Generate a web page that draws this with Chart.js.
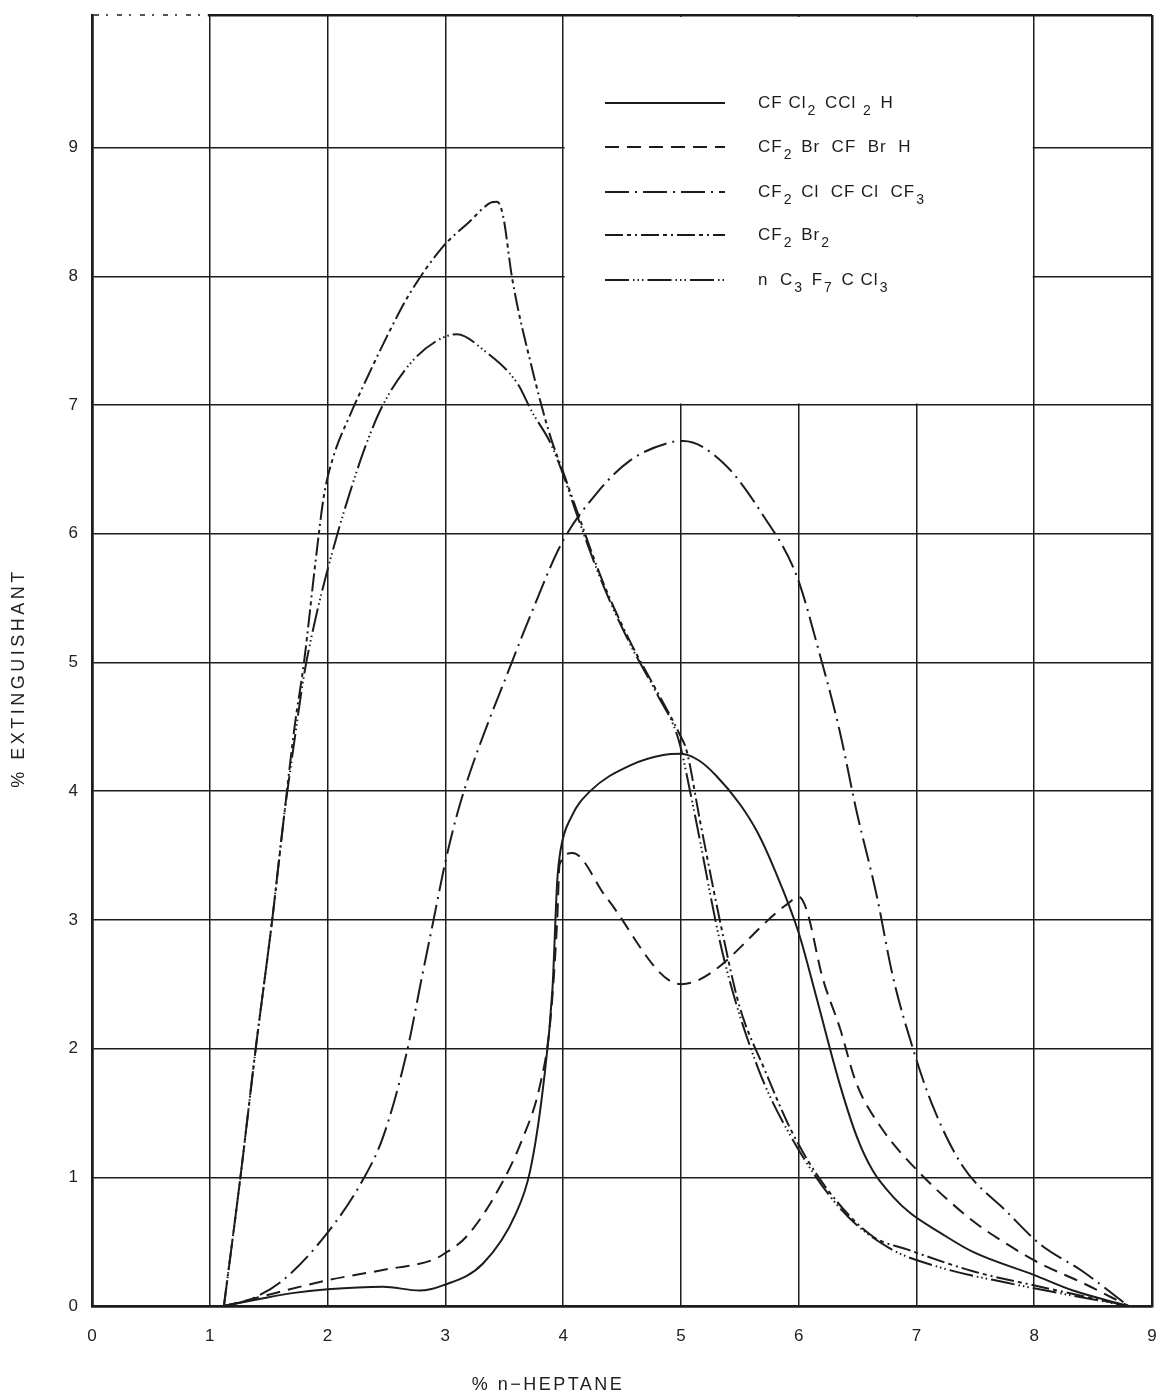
<!DOCTYPE html>
<html>
<head>
<meta charset="utf-8">
<script src="https://cdn.jsdelivr.net/npm/chart.js@4.4.1/dist/chart.umd.min.js"></script>
<style>
  html, body { margin: 0; padding: 0; background: #fff; }
  #wrap { width: 1161px; height: 1398px; }
</style>
</head>
<body>
<div id="wrap"><canvas id="chart" width="1161" height="1398"></canvas></div>
<script>
// values (x = % n-heptane, y = % extinguishant)
const xTicks = [0, 1, 2, 3, 4, 5, 6, 7, 8, 9];
const yTicks = [0, 1, 2, 3, 4, 5, 6, 7, 8, 9];
const yTop = 10.03;
const xTitle = '% n\u2212HEPTANE';
const yTitle = '% EXTINGUISHANT';

const names = ['CF Cl_2 CCl _2 H', 'CF_2 Br  CF  Br  H', 'CF_2 Cl  CF Cl  CF_3', 'CF_2 Br_2', 'n  C_3 F_7 C Cl_3'];

const solidX = [1.12, 1.4, 1.7, 2.0, 2.47, 2.78, 2.98, 3.32, 3.6, 3.72, 3.83, 3.91, 3.95, 3.98, 4.07, 4.23, 4.57, 4.85, 5.0, 5.15, 5.3, 5.5, 5.65, 5.8, 6.0, 6.15, 6.35, 6.5, 6.63, 6.8, 6.95, 7.2, 7.48, 8.0, 8.33, 8.8];
const solidY = [0, 0.05, 0.1, 0.13, 0.15, 0.12, 0.16, 0.33, 0.72, 1.05, 1.7, 2.47, 3.3, 3.55, 3.8, 4.0, 4.2, 4.28, 4.29, 4.24, 4.12, 3.9, 3.68, 3.38, 2.9, 2.4, 1.72, 1.3, 1.05, 0.85, 0.72, 0.57, 0.42, 0.24, 0.12, 0];

const dashX = [1.12, 1.34, 2.0, 2.47, 2.9, 2.98, 3.18, 3.46, 3.66, 3.8, 3.89, 3.95, 3.97, 4.08, 4.37, 5.0, 5.9, 6.0, 6.07, 6.2, 6.35, 6.49, 6.69, 7.0, 7.48, 7.77, 8.05, 8.41, 8.8];
const dashY = [0, 0.05, 0.2, 0.28, 0.36, 0.4, 0.54, 0.92, 1.31, 1.7, 2.2, 3.0, 3.43, 3.52, 3.17, 2.5, 3.12, 3.18, 3.07, 2.56, 2.16, 1.73, 1.4, 1.06, 0.66, 0.48, 0.33, 0.18, 0];

const cfclX = [1.12, 1.34, 1.62, 2.0, 2.3, 2.47, 2.67, 2.8, 2.9, 3.0, 3.1, 3.2, 3.35, 3.5, 3.72, 3.99, 4.29, 4.57, 4.91, 5.02, 5.36, 5.7, 5.98, 6.18, 6.35, 6.49, 6.66, 6.8, 6.97, 7.14, 7.39, 7.77, 8.05, 8.41, 8.8];
const cfclY = [0, 0.05, 0.2, 0.57, 0.98, 1.31, 1.96, 2.55, 3.0, 3.45, 3.82, 4.12, 4.5, 4.85, 5.36, 5.93, 6.32, 6.57, 6.71, 6.72, 6.55, 6.14, 5.68, 5.06, 4.46, 3.85, 3.2, 2.56, 2.0, 1.55, 1.09, 0.73, 0.48, 0.27, 0];

const brX = [1.12, 1.26, 1.39, 1.53, 1.63, 1.72, 1.8, 1.9, 1.97, 2.05, 2.19, 2.33, 2.53, 2.7, 2.98, 3.2, 3.38, 3.44, 3.49, 3.57, 3.74, 3.89, 4.0, 4.12, 4.34, 4.57, 4.8, 4.99, 5.05, 5.16, 5.36, 5.5, 5.7, 5.95, 6.24, 6.63, 6.92, 7.48, 8.05, 8.8];
const brY = [0, 1.0, 2.0, 3.0, 3.8, 4.5, 5.0, 5.8, 6.3, 6.6, 6.92, 7.2, 7.58, 7.87, 8.23, 8.42, 8.57, 8.58, 8.47, 7.97, 7.27, 6.76, 6.48, 6.17, 5.62, 5.16, 4.77, 4.44, 4.31, 3.78, 2.87, 2.32, 1.86, 1.34, 0.91, 0.54, 0.44, 0.27, 0.15, 0];

const c3X = [1.12, 1.26, 1.39, 1.53, 1.63, 1.72, 1.8, 1.9, 2.0, 2.1, 2.2, 2.33, 2.47, 2.7, 2.93, 3.1, 3.32, 3.61, 3.74, 3.89, 4.0, 4.12, 4.34, 4.57, 4.8, 4.98, 5.1, 5.36, 5.65, 5.92, 6.35, 6.77, 7.2, 7.77, 8.8];
const c3Y = [0, 1.0, 2.0, 3.0, 3.8, 4.4, 4.9, 5.35, 5.72, 6.05, 6.35, 6.7, 7.0, 7.32, 7.5, 7.55, 7.43, 7.17, 6.94, 6.71, 6.46, 6.14, 5.6, 5.14, 4.75, 4.4, 3.9, 2.72, 1.86, 1.34, 0.76, 0.45, 0.3, 0.18, 0];

const dashes = [[], [14, 8], [24, 6, 2, 6], [18, 4, 4, 4, 2, 4], [24, 4, 1.5, 3, 1.5, 3, 1.5, 4]];
const ink = '#1c1c1c';
const fontFamily = '"Liberation Sans", Arial, sans-serif';

function pts(xs, ys) {
  return xs.map((v, i) => ({ x: v, y: ys[i] }));
}

const series = [pts(solidX, solidY), pts(dashX, dashY), pts(cfclX, cfclY), pts(brX, brY), pts(c3X, c3Y)];

// blank the legend panel (x 4..8, y 7..top) where the original has no grid
const legendBox = {
  id: 'legendBox',
  beforeDraw(chart) {
    const ctx = chart.ctx;
    ctx.save();
    ctx.fillStyle = '#fff';
    ctx.fillRect(0, 0, chart.width, chart.height);
    ctx.restore();
  },
  beforeDatasetsDraw(chart) {
    const { ctx, chartArea } = chart;
    const xs = chart.scales.x, ys = chart.scales.y;
    const l = xs.getPixelForValue(4) + 1.5, r = xs.getPixelForValue(8) - 1.5;
    const b = ys.getPixelForValue(7) - 1.5;
    ctx.save();
    ctx.fillStyle = '#fff';
    ctx.fillRect(l, chartArea.top + 2, r - l, b - chartArea.top - 2);
    // faded dotted stretch of the top frame between 0 and 1
    const a = xs.getPixelForValue(0) + 2, e = xs.getPixelForValue(1) - 2;
    ctx.fillRect(a, chartArea.top - 3, e - a, 6);
    ctx.strokeStyle = '#555';
    ctx.lineWidth = 2;
    ctx.setLineDash([5, 7, 2, 9]);
    ctx.beginPath();
    ctx.moveTo(a, chartArea.top);
    ctx.lineTo(e, chartArea.top);
    ctx.stroke();
    ctx.restore();
  },
  afterDraw(chart) {
    const ctx = chart.ctx;
    const x0 = 605, x1 = 725, tx = 758;
    const rows = [103, 147, 192, 235, 280];
    ctx.save();
    ctx.letterSpacing = '1px';
    rows.forEach((yy, i) => {
      ctx.strokeStyle = ink;
      ctx.lineWidth = 2;
      ctx.setLineDash(dashes[i]);
      ctx.beginPath();
      ctx.moveTo(x0, yy);
      ctx.lineTo(x1, yy);
      ctx.stroke();
      // label with subscripts, "_d" marks a subscript digit
      let cx = tx;
      const parts = names[i].split(/(_\d)/);
      ctx.fillStyle = ink;
      ctx.textBaseline = 'middle';
      parts.forEach(p => {
        if (!p) return;
        if (p[0] === '_') {
          ctx.font = '14px ' + fontFamily;
          ctx.fillText(p[1], cx + 1, yy + 8);
          cx += ctx.measureText(p[1]).width + 4;
        } else {
          ctx.font = '17px ' + fontFamily;
          ctx.fillText(p, cx, yy);
          cx += ctx.measureText(p).width;
        }
      });
    });

    // axis titles, letter-spaced like the original lettering
    ctx.fillStyle = '#222';
    ctx.textAlign = 'center';
    ctx.textBaseline = 'middle';
    ctx.font = '18px ' + fontFamily;
    ctx.letterSpacing = '2.5px';
    ctx.fillText(xTitle, 548, 1385);
    ctx.translate(19, 678);
    ctx.rotate(-Math.PI / 2);
    ctx.letterSpacing = '3.5px';
    ctx.fillText(yTitle, 0, 0);
    ctx.restore();
  }
};

const ctx = document.getElementById('chart').getContext('2d');
new Chart(ctx, {
  type: 'scatter',
  data: {
    datasets: series.map((d, i) => ({
      label: names[i],
      data: d,
      showLine: true,
      borderColor: ink,
      borderWidth: 2,
      borderDash: dashes[i],
      pointRadius: 0,
      cubicInterpolationMode: 'monotone',
      fill: false
    }))
  },
  options: {
    responsive: false,
    animation: false,
    layout: { autoPadding: false, padding: { top: 15, right: 9, left: 0, bottom: 0 } },
    plugins: {
      legend: { display: false },
      tooltip: { enabled: false }
    },
    scales: {
      x: {
        type: 'linear',
        min: 0,
        max: 9,
        afterBuildTicks: s => { s.ticks = xTicks.map(v => ({ value: v })); },
        afterFit: s => { s.height = 92; s.paddingLeft = 0; s.paddingRight = 0; },
        grid: {
          color: ink,
          lineWidth: c => (c.tick && (c.tick.value === 9 || c.tick.value === 0)) ? 2.5 : 1.5,
          drawTicks: false
        },
        border: { display: true, color: ink, width: 2.5 },
        ticks: {
          padding: 20,
          color: '#222',
          font: { family: fontFamily, size: 17 }
        }
      },
      y: {
        type: 'linear',
        min: 0,
        max: yTop,
        afterBuildTicks: s => { s.ticks = yTicks.concat([yTop]).map(v => ({ value: v })); },
        afterFit: s => { s.width = 92; s.paddingTop = 0; s.paddingBottom = 0; },
        grid: {
          color: ink,
          lineWidth: c => (c.tick && (c.tick.value > 9.5 || c.tick.value === 0)) ? 2.5 : 1.5,
          drawTicks: false
        },
        border: { display: true, color: ink, width: 2.5 },
        ticks: {
          padding: 14,
          color: '#222',
          callback: v => (v > 9.5 ? '' : v),
          font: { family: fontFamily, size: 17 }
        }
      }
    }
  },
  plugins: [legendBox]
});
</script>
</body>
</html>
